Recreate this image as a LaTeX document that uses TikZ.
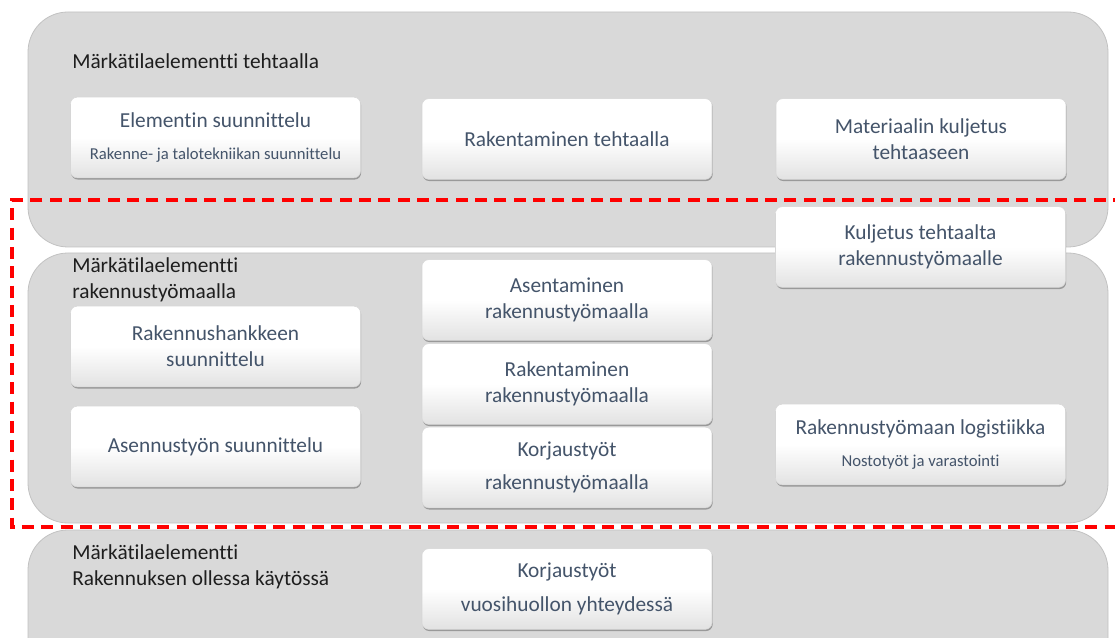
\documentclass[tikz,border=0pt]{standalone}
\usepackage{fontspec}
\setmainfont{Carlito}[Ligatures=NoCommon]
\usetikzlibrary{shadows}
\definecolor{panelgray}{HTML}{D9D9D9}
\definecolor{paneledge}{HTML}{C2C2C2}
\definecolor{cardtext}{HTML}{44546A}
\definecolor{cardedge}{HTML}{D6D6D6}
\definecolor{cardbottom}{HTML}{E2E2E2}
\definecolor{titletext}{HTML}{1E1E1E}
\definecolor{zonered}{HTML}{FF0000}
\begin{document}
\begin{tikzpicture}[x=0.75pt,y=-0.75pt,
  panel/.style={fill=panelgray,draw=paneledge,line width=0.6pt,rounded corners=30pt},
  paneltitle/.style={inner sep=0pt,text=titletext,align=left,
    font=\fontsize{16}{19.5}\selectfont},
  card/.style={rounded corners=5pt,draw=cardedge,line width=0.4pt,
    top color=white,bottom color=cardbottom,middle color=white,
    minimum width=217.5pt,minimum height=60.5pt,inner sep=0pt,
    text=cardtext,align=center,font=\fontsize{16}{19.5}\selectfont,
    drop shadow={shadow xshift=0.5pt,shadow yshift=-1.3pt,opacity=0.45,fill=black!70}},
  wide/.style={font=\fontsize{16}{25}\selectfont},
  zone/.style={draw=zonered,line width=2.6pt,dash pattern=on 9pt off 5.5pt}
]
\clip (0,0) rectangle (1115,638);
\fill[white] (0,0) rectangle (1115,638);

% three phase panels
\path[panel] (28,12) rectangle (1108,247);
\path[panel] (28,253) rectangle (1108,523);
\path[panel] (28,530) rectangle (1108,700);

% panel headings (base anchor sits on the last line)
\node[paneltitle,anchor=base west] (hfactory) at (72,69) {Märkätilaelementti tehtaalla};
\node[paneltitle,anchor=base west] (hsite) at (72,299) {Märkätilaelementti\\rakennustyömaalla};
\node[paneltitle,anchor=base west] (huse) at (72,585) {Märkätilaelementti\\Rakennuksen ollessa käytössä};

% dashed zone marking the work on site
\coordinate (zoneTR) at (1125,200);
\coordinate (zoneTL) at (12,200);
\coordinate (zoneBL) at (12,527);
\coordinate (zoneBR) at (1125,527);
\draw[zone] (zoneTR) -- (zoneTL) -- (zoneBL) -- (zoneBR);

% factory phase
\node[card] (design) at (215.5,137.5) {Elementin suunnittelu\\[4pt]{\fontsize{12.5}{14}\selectfont Rakenne- ja talotekniikan suunnittelu}};
\node[card] (build) at (567,139) {Rakentaminen tehtaalla};
\node[card] (supply) at (921,139) {Materiaalin kuljetus\\tehtaaseen};

% transport and site phase
\node[card] (transport) at (920.5,247) {Kuljetus tehtaalta\\rakennustyömaalle};
\node[card] (planning) at (215.5,346.5) {Rakennushankkeen\\suunnittelu};
\node[card] (install) at (215.5,446.5) {Asennustyön suunnittelu};
\node[card] (mount) at (567,300) {Asentaminen\\rakennustyömaalla};
\node[card] (sitebuild) at (567,384) {Rakentaminen\\rakennustyömaalla};
\node[card,wide] (siterepair) at (567,467.5) {Korjaustyöt\\rakennustyömaalla};
\node[card] (logistics) at (920.5,444.5) {Rakennustyömaan logistiikka\\[5pt]{\fontsize{12.5}{14}\selectfont Nostotyöt ja varastointi}};

% use phase
\node[card,wide] (maintenance) at (567,589) {Korjaustyöt\\vuosihuollon yhteydessä};
\end{tikzpicture}
\end{document}
